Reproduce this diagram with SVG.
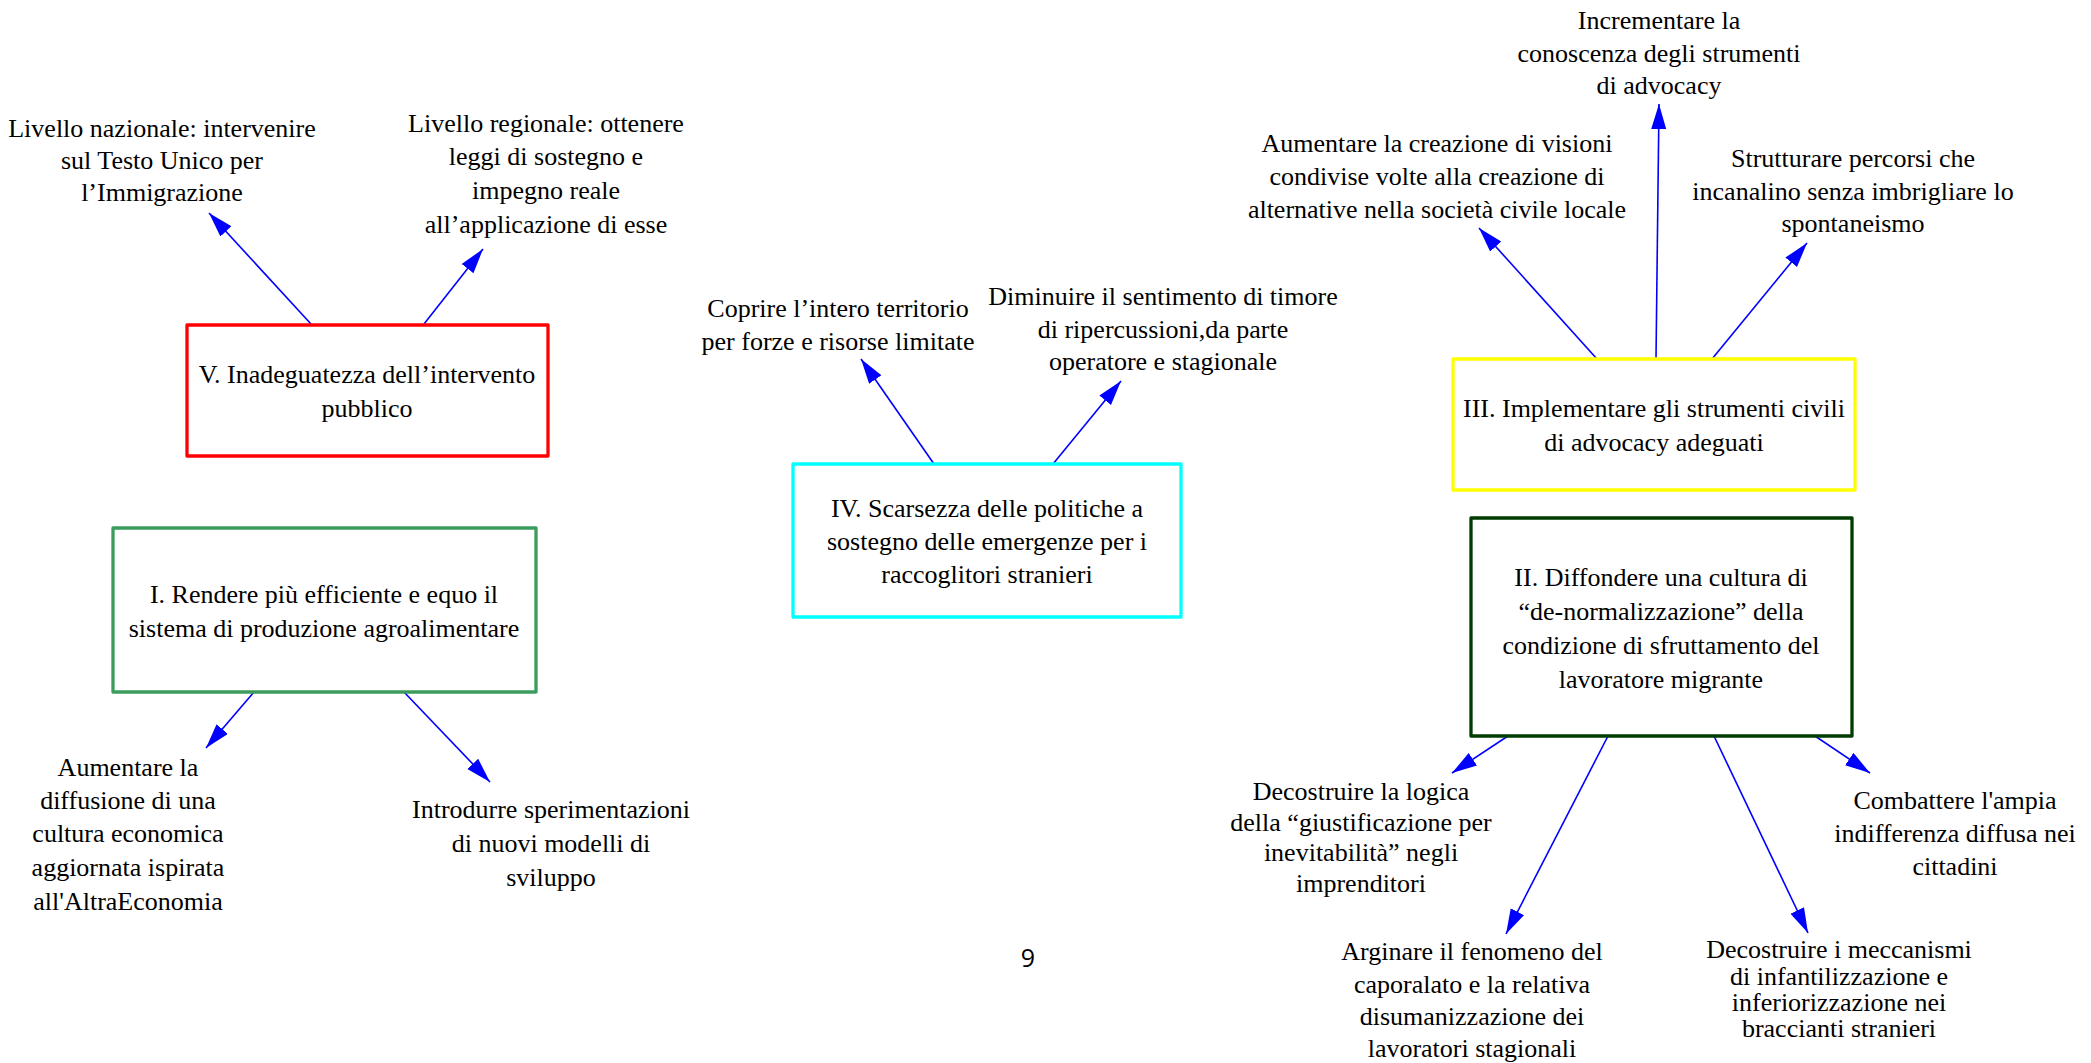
<svg xmlns="http://www.w3.org/2000/svg" width="2091" height="1063" viewBox="0 0 2091 1063">
<style>
  .t { font-family: "Liberation Serif", "Times New Roman", serif; font-size: 26px; fill: #000; text-anchor: middle; }
  .box { fill: none; stroke-width: 3.3; stroke-linejoin: round; }
  .edge { stroke: #0000ff; stroke-width: 1.6; fill: none; marker-end: url(#arr); }
  .pg { font-family: "Open Sans", "DejaVu Sans", sans-serif; font-size: 25px; fill: #000; text-anchor: middle; }
</style>
<defs>
  <marker id="arr" markerUnits="userSpaceOnUse" markerWidth="26" markerHeight="16" refX="25" refY="7.5" orient="auto">
    <path d="M0,0 L25,7.5 L0,15 z" fill="#0000ff"/>
  </marker>
</defs>
<rect width="2091" height="1063" fill="#ffffff"/>

<g id="connectors">
  <line class="edge" x1="311" y1="324" x2="209" y2="213"/>
  <line class="edge" x1="424" y1="324" x2="483" y2="249"/>
  <line class="edge" x1="254" y1="692" x2="206" y2="748"/>
  <line class="edge" x1="404" y1="692" x2="490" y2="782"/>
  <line class="edge" x1="934" y1="464" x2="861" y2="359"/>
  <line class="edge" x1="1053" y1="464" x2="1121" y2="381"/>
  <line class="edge" x1="1597" y1="359" x2="1479" y2="228"/>
  <line class="edge" x1="1656" y1="359" x2="1659" y2="104"/>
  <line class="edge" x1="1712" y1="359" x2="1807" y2="243"/>
  <line class="edge" x1="1508" y1="736" x2="1452" y2="773"/>
  <line class="edge" x1="1608" y1="736" x2="1506" y2="934"/>
  <line class="edge" x1="1714" y1="736" x2="1808" y2="933"/>
  <line class="edge" x1="1815" y1="736" x2="1870" y2="773"/>
</g>

<g id="nodeV">
  <rect class="box" x="187" y="325" width="361" height="131" stroke="#ff0000"/>
  <text class="t" x="367" y="383">V. Inadeguatezza dell’intervento</text>
  <text class="t" x="367" y="417">pubblico</text>
</g>
<g id="nodeV1">
  <text class="t" x="162" y="137">Livello nazionale: intervenire</text>
  <text class="t" x="162" y="169">sul Testo Unico per</text>
  <text class="t" x="162" y="201">l’Immigrazione</text>
</g>
<g id="nodeV2">
  <text class="t" x="546" y="132">Livello regionale: ottenere</text>
  <text class="t" x="546" y="165">leggi di sostegno e</text>
  <text class="t" x="546" y="199">impegno reale</text>
  <text class="t" x="546" y="233">all’applicazione di esse</text>
</g>

<g id="nodeI">
  <rect class="box" x="113" y="528" width="423" height="164" stroke="#3c9c5e"/>
  <text class="t" x="324" y="603">I. Rendere più efficiente e equo il</text>
  <text class="t" x="324" y="637">sistema di produzione agroalimentare</text>
</g>
<g id="nodeI1">
  <text class="t" x="128" y="776">Aumentare la</text>
  <text class="t" x="128" y="809">diffusione di una</text>
  <text class="t" x="128" y="842">cultura economica</text>
  <text class="t" x="128" y="876">aggiornata ispirata</text>
  <text class="t" x="128" y="910">all'AltraEconomia</text>
</g>
<g id="nodeI2">
  <text class="t" x="551" y="818">Introdurre sperimentazioni</text>
  <text class="t" x="551" y="852">di nuovi modelli di</text>
  <text class="t" x="551" y="886">sviluppo</text>
</g>

<g id="nodeIV">
  <rect class="box" x="793" y="464" width="388" height="153" stroke="#00ffff"/>
  <text class="t" x="987" y="517">IV. Scarsezza delle politiche a</text>
  <text class="t" x="987" y="550">sostegno delle emergenze per i</text>
  <text class="t" x="987" y="583">raccoglitori stranieri</text>
</g>
<g id="nodeIV1">
  <text class="t" x="838" y="317">Coprire l’intero territorio</text>
  <text class="t" x="838" y="350">per forze e risorse limitate</text>
</g>
<g id="nodeIV2">
  <text class="t" x="1163" y="305">Diminuire il sentimento di timore</text>
  <text class="t" x="1163" y="338">di ripercussioni,da parte</text>
  <text class="t" x="1163" y="370">operatore e stagionale</text>
</g>

<g id="nodeIII">
  <rect class="box" x="1453" y="359" width="402" height="131" stroke="#ffff00"/>
  <text class="t" x="1654" y="417">III. Implementare gli strumenti civili</text>
  <text class="t" x="1654" y="451">di advocacy adeguati</text>
</g>
<g id="nodeIII1">
  <text class="t" x="1437" y="152">Aumentare la creazione di visioni</text>
  <text class="t" x="1437" y="185">condivise volte alla creazione di</text>
  <text class="t" x="1437" y="218">alternative nella società civile locale</text>
</g>
<g id="nodeIII2">
  <text class="t" x="1659" y="29">Incrementare la</text>
  <text class="t" x="1659" y="62">conoscenza degli strumenti</text>
  <text class="t" x="1659" y="94">di advocacy</text>
</g>
<g id="nodeIII3">
  <text class="t" x="1853" y="167">Strutturare percorsi che</text>
  <text class="t" x="1853" y="200">incanalino senza imbrigliare lo</text>
  <text class="t" x="1853" y="232">spontaneismo</text>
</g>

<g id="nodeII">
  <rect class="box" x="1471" y="518" width="381" height="218" stroke="#003d00"/>
  <text class="t" x="1661" y="586">II. Diffondere una cultura di</text>
  <text class="t" x="1661" y="620">“de-normalizzazione” della</text>
  <text class="t" x="1661" y="654">condizione di sfruttamento del</text>
  <text class="t" x="1661" y="688">lavoratore migrante</text>
</g>
<g id="nodeII1">
  <text class="t" x="1361" y="800">Decostruire la logica</text>
  <text class="t" x="1361" y="831">della “giustificazione per</text>
  <text class="t" x="1361" y="861">inevitabilità” negli</text>
  <text class="t" x="1361" y="892">imprenditori</text>
</g>
<g id="nodeII2">
  <text class="t" x="1472" y="960">Arginare il fenomeno del</text>
  <text class="t" x="1472" y="993">caporalato e la relativa</text>
  <text class="t" x="1472" y="1025">disumanizzazione dei</text>
  <text class="t" x="1472" y="1057">lavoratori stagionali</text>
</g>
<g id="nodeII3">
  <text class="t" x="1839" y="958">Decostruire i meccanismi</text>
  <text class="t" x="1839" y="985">di infantilizzazione e</text>
  <text class="t" x="1839" y="1011">inferiorizzazione nei</text>
  <text class="t" x="1839" y="1037">braccianti stranieri</text>
</g>
<g id="nodeII4">
  <text class="t" x="1955" y="809">Combattere l'ampia</text>
  <text class="t" x="1955" y="842">indifferenza diffusa nei</text>
  <text class="t" x="1955" y="875">cittadini</text>
</g>

<g id="pagenum">
  <text class="pg" x="1028" y="967">9</text>
</g>
</svg>
